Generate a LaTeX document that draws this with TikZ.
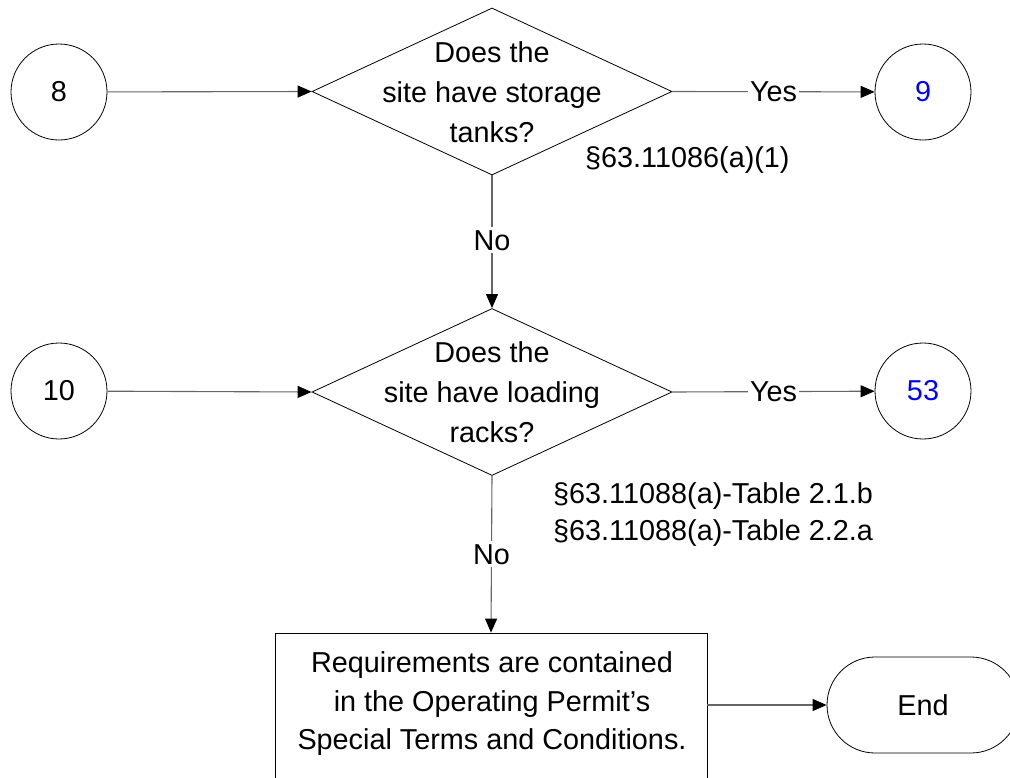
\documentclass[tikz,border=0pt]{standalone}
\usepackage{fontspec}
\setmainfont{Liberation Sans}
\usetikzlibrary{arrows.meta,shapes.geometric}
\begin{document}
\begin{tikzpicture}[x=1pt,y=-1pt,
  font=\fontsize{28.8}{40}\selectfont,
  shapeline/.style={draw=black,line width=0.8pt},
  conn/.style={draw=black!60,line width=1.1pt,-{Triangle[length=14pt,width=12pt,color=black]}},
  circ/.style={shapeline,circle,minimum size=96pt,inner sep=0pt},
  dia/.style={shapeline,diamond,minimum width=360pt,minimum height=167pt,inner sep=0pt},
  lbl/.style={fill=white,inner xsep=2pt,inner ysep=3pt},
  txt/.style={align=center,inner sep=0pt}]
\useasboundingbox (0,0) rectangle (1010,777);
% nodes
\node[circ] (c8) at (59,92) {8};
\node[circ] (c9) at (923,92) {\textcolor[RGB]{0,0,255}{9}};
\node[dia] (d1) at (492,91.5) {};
\node[txt] (t1) at (492,92) {Does the\\site have storage\\tanks?};
\node[circ] (c10) at (59,391) {10};
\node[circ] (c53) at (923,391) {\textcolor[RGB]{0,0,255}{53}};
\node[dia] (d2) at (492,392) {};
\node[txt] (t2) at (492,392) {Does the\\site have loading\\racks?};
\node[shapeline,rectangle,minimum width=432pt,minimum height=160pt,inner sep=0pt] (box) at (491,713) {};
\node[txt,font=\fontsize{28.8}{38.5}\selectfont] (bt) at (492,704) {Requirements are contained\\in the Operating Permit’s\\Special Terms and Conditions.};
\node[shapeline,rectangle,rounded corners=48pt,minimum width=192pt,minimum height=96pt,inner sep=0pt] (end) at (923,705) {End};
\node[anchor=west,inner sep=0pt] (r1) at (585,160) {§63.11086(a)(1)};
\node[anchor=west,inner sep=0pt,align=left,font=\fontsize{28.8}{37}\selectfont] (r2) at (553,515) {§63.11088(a)-Table 2.1.b\\§63.11088(a)-Table 2.2.a};
% connectors
\draw[conn] (c8) -- (d1.west);
\draw[conn] (d1.east) -- node[lbl] {Yes} (c9);
\draw[conn] (d1.south) -- node[lbl,pos=0.49] {No} (d2.north);
\draw[conn] (c10) -- (d2.west);
\draw[conn] (d2.east) -- node[lbl] {Yes} (c53);
\draw[conn] (d2.south) -- node[lbl,pos=0.5] {No} (box.north);
\draw[conn] (box.east |- end.west) -- (end.west);
\end{tikzpicture}
\end{document}
